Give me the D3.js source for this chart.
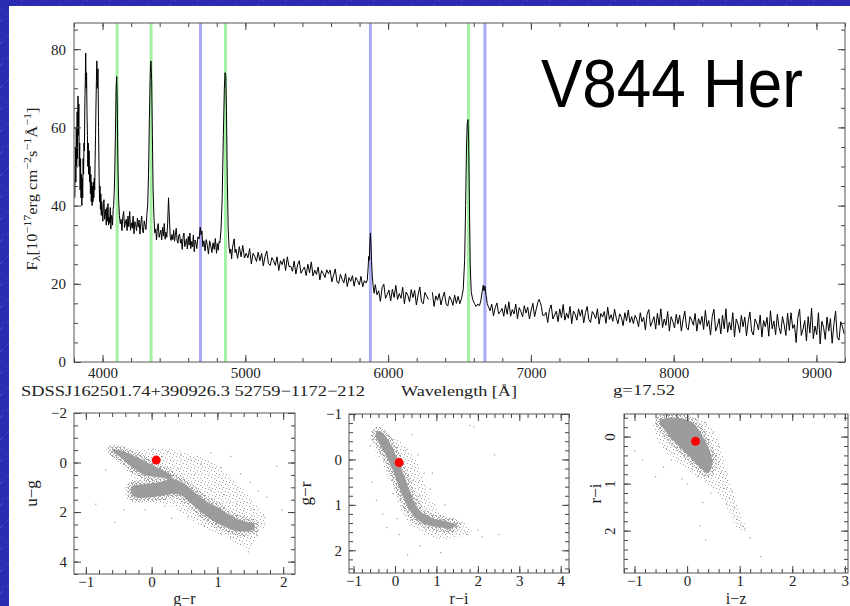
<!DOCTYPE html>
<html>
<head>
<meta charset="utf-8">
<script src="https://cdn.jsdelivr.net/npm/d3@7"></script>
<style>
body { margin: 0; background: #fff; }
svg text { font-family: "Liberation Serif", "DejaVu Serif", serif; fill: #222; }
</style>
</head>
<body>
<svg id="chart" width="850" height="606"></svg>
<script>
// spectrum, [wavelength (A), flux (1e-17 erg/cm2/s/A)]
var spectrum = [
  [3806,42],[3810,55],[3813,46],[3816,60],[3819,50],[3822,64],[3825,52],[3828,68],[3831,58],[3834,66],
  [3837,50],[3840,56],[3843,44],[3846,52],[3849,42],[3852,48],[3855,40],[3858,47],[3861,42],[3864,52],
  [3867,48],[3870,56],[3873,54],[3876,66],[3879,72],[3882,79],[3885,70],[3888,74],[3891,64],[3894,58],
  [3897,50],[3900,56],[3903,48],[3906,54],[3909,46],[3912,50],[3915,43],[3918,48],[3921,41],[3924,46],
  [3927,40],[3930,45],[3933,41],[3936,46],[3939,42],[3942,47],[3945,44],[3948,52],[3951,58],[3954,66],
  [3957,72],[3960,77],[3964,70],[3968,75],[3972,60],[3976,47],[3979,41],[3982,45],[3985,39],[3988,43],
  [3991,37.5],[3994,41],[3998,39],[4002,36],[4006,40.5],[4010,41.5],[4014,36.5],[4018,37.5],[4022,39],[4026,35],
  [4030,39.5],[4034,36],[4038,40.5],[4042,35],[4046,37],[4050,35.5],[4054,39.5],[4058,34],[4062,37.5],[4066,37],
  [4070,35],[4074,39],[4078,40],[4084,46],[4090,58],[4095,70],[4099,73],[4103,66],[4107,52],[4112,42],
  [4118,37.5],[4124,35.4],[4130,36.5],[4136,33.6],[4142,37.2],[4148,38.5],[4154,34.4],[4160,35.5],[4166,36.5],[4172,33.6],
  [4178,37.3],[4184,34.6],[4190,38.5],[4196,33.7],[4202,35.6],[4208,34.2],[4214,37.3],[4220,32.8],[4226,35.9],[4232,35.1],
  [4238,33.6],[4244,36.8],[4250,34.5],[4256,36.3],[4262,32.7],[4268,35.5],[4274,37.3],[4280,33.6],[4286,33.0],[4292,36.1],
  [4298,35.0],[4304,33.9],[4310,37.5],[4316,40],[4322,48],[4328,62],[4334,74],[4339,77],[4344,72],[4349,58],
  [4354,44],[4360,37],[4366,33.0],[4372,34.0],[4378,31.2],[4384,34.3],[4390,35.4],[4396,31.9],[4402,32.8],[4408,33.7],
  [4414,31.2],[4420,34.4],[4426,32.2],[4432,35.4],[4438,31.4],[4444,33.2],[4450,31.9],[4456,35.5],[4462,42],[4468,37],
  [4474,32.0],[4480,31.1],[4486,32.6],[4492,31.3],[4498,33.7],[4504,30.9],[4510,32.4],[4516,34.2],[4522,31.1],[4528,30.4],
  [4534,32.4],[4540,32.7],[4546,30.4],[4552,31.4],[4558,28.8],[4564,32.0],[4570,33.0],[4576,29.5],[4582,30.5],[4588,31.5],
  [4594,28.9],[4600,32.1],[4606,29.9],[4612,33.0],[4618,29.0],[4624,30.8],[4630,29.5],[4636,32.5],[4642,28.2],[4648,31.2],
  [4654,30.5],[4660,29.0],[4668,32.0],[4676,31.5],[4684,34.5],[4690,32.5],[4696,33.5],[4702,29.5],[4710,31.0],[4718,28.4],
  [4726,31.3],[4734,29.8],[4742,27.6],[4750,31.0],[4758,29.7],[4766,28.0],[4774,30.5],[4782,28.8],[4790,31.6],[4798,27.8],
  [4804,30.3],[4810,28.6],[4816,30.8],[4822,30.5],[4830,34],[4838,42],[4846,58],[4853,70],[4858,74],[4863,73],
  [4868,64],[4874,46],[4880,34],[4886,29.5],[4892,27.8],[4898,28.9],[4904,26.4],[4910,29.2],[4916,30.4],[4922,31.5],
  [4928,28.0],[4934,28.9],[4946,26.5],[4958,29.5],[4970,26.9],[4982,29.8],[4994,26.6],[5006,27.8],[5018,26.6],[5030,29.0],
  [5042,25.1],[5054,27.8],[5066,27.0],[5078,25.7],[5090,28.1],[5102,25.9],[5114,27.8],[5126,24.6],[5138,27.0],[5150,28.4],
  [5162,25.2],[5174,24.7],[5186,26.7],[5198,25.9],[5210,24.7],[5222,26.9],[5234,23.4],[5246,25.9],[5258,24.9],[5270,26.4],
  [5282,23.4],[5294,26.9],[5306,24.4],[5318,24.5],[5330,23.2],[5342,25.8],[5354,22.5],[5366,24.8],[5378,25.9],[5390,22.7],
  [5402,23.6],[5414,24.3],[5426,22.1],[5438,25.0],[5450,22.8],[5462,25.6],[5474,22.0],[5486,23.5],[5498,22.4],[5510,24.3],
  [5522,21.0],[5534,23.4],[5546,22.6],[5558,21.6],[5570,23.6],[5582,22.6],[5594,23.5],[5606,20.5],[5618,22.2],[5630,23.8],
  [5642,20.5],[5654,20.1],[5666,22.4],[5678,21.2],[5690,20.2],[5702,22.6],[5714,19.3],[5726,21.6],[5738,20.6],[5750,22.1],
  [5762,19.4],[5774,21.6],[5786,20.8],[5798,19.7],[5810,21.9],[5822,19.2],[5834,20.8],[5846,20.2],[5854,21],[5860,24],
  [5864,27],[5868,26],[5872,30],[5876,33],[5880,30],[5884,26],[5889,22],[5895,19.5],[5902,17.6],[5910,19.8],
  [5922,17.2],[5934,18.2],[5946,15.5],[5958,19.0],[5970,19.9],[5982,16.3],[5994,17.3],[6006,18.4],[6018,15.6],[6030,18.6],
  [6042,16.5],[6054,19.6],[6066,16.0],[6078,17.5],[6090,16.3],[6102,19.1],[6114,14.9],[6126,17.9],[6138,17.1],[6150,15.4],
  [6162,18.5],[6174,16.5],[6186,18.3],[6198,14.6],[6210,17.2],[6222,19.2],[6234,15.4],[6246,14.9],[6258,17.8],[6270,16.9],
  [6282,16.0],[6295,null],[6310,17.8],[6322,14.2],[6334,16.9],[6346,15.8],[6358,17.5],[6370,14.6],[6382,16.5],[6394,17.9],
  [6406,14.8],[6418,14.3],[6430,16.8],[6442,15.9],[6454,14.5],[6466,17.1],[6478,15.0],[6490,16.8],[6502,14.9],[6514,16.2],
  [6526,18.5],[6536,26],[6543,40],[6549,55],[6554,61],[6559,62],[6564,57],[6569,42],[6575,25],[6582,18],
  [6592,16],[6604,15],[6616,14.2],[6628,14.8],[6640,14.4],[6650,15.8],[6660,18.3],[6666,19.6],[6672,18.2],[6678,19.4],
  [6686,17.0],[6694,15.0],[6702,14.2],[6714,13.1],[6726,14.8],[6738,11.8],[6750,13.9],[6762,15.1],[6774,12.3],[6786,12.9],
  [6798,13.7],[6810,11.7],[6822,14.7],[6834,12.2],[6846,15.4],[6858,11.7],[6870,13.4],[6882,12.3],[6894,14.8],[6906,11.1],
  [6918,13.9],[6930,12.9],[6942,11.6],[6954,14.4],[6966,12.5],[6978,14.0],[6990,11.0],[7002,13.3],[7014,15.0],[7026,11.6],
  [7038,13.6],[7050,15.4],[7058,16.0],[7066,15.2],[7074,14.1],[7082,12.0],[7094,11.9],[7106,12.7],[7118,10.1],[7130,13.4],
  [7142,14.6],[7154,11.0],[7166,12.0],[7178,13.0],[7190,10.3],[7202,13.6],[7214,11.3],[7226,14.7],[7238,10.7],[7250,12.5],
  [7262,11.2],[7274,14.2],[7286,9.8],[7298,13.0],[7310,12.2],[7322,10.7],[7334,13.6],[7346,11.7],[7358,13.4],[7370,10.0],
  [7382,12.6],[7394,14.2],[7406,10.9],[7418,10.1],[7430,12.9],[7442,12.2],[7454,11.1],[7466,13.6],[7478,9.7],[7490,12.4],
  [7502,11.5],[7514,12.9],[7526,9.9],[7538,14.0],[7550,10.9],[7562,12.1],[7574,10.4],[7586,13.5],[7598,11.2],[7610,9.8],
  [7622,12.3],[7634,11.4],[7646,9.3],[7658,12.6],[7670,10.5],[7682,13.3],[7694,10.1],[7706,11.6],[7718,9.8],[7730,11.9],
  [7742,10.9],[7754,9.0],[7766,12.6],[7778,10.3],[7790,11.4],[7802,8.2],[7814,12.3],[7826,13.4],[7838,9.1],[7850,10.3],
  [7862,11.6],[7874,8.4],[7886,12.5],[7898,9.4],[7910,13.6],[7922,8.8],[7934,11.0],[7946,9.4],[7958,12.9],[7970,7.9],
  [7982,11.6],[7994,10.4],[8006,8.7],[8018,12.2],[8030,9.7],[8042,12.0],[8054,7.9],[8066,10.8],[8078,13.0],[8090,8.8],
  [8102,8.2],[8114,11.6],[8126,10.7],[8138,9.4],[8150,12.4],[8162,7.9],[8174,11.1],[8186,9.6],[8198,11.7],[8210,8.3],
  [8222,13.2],[8234,9.1],[8246,10.6],[8258,6.9],[8270,11.6],[8282,13.5],[8294,7.9],[8306,9.2],[8318,11.1],[8330,7.2],
  [8342,12.0],[8354,8.5],[8366,13.6],[8378,7.6],[8390,10.2],[8402,8.2],[8414,12.6],[8426,6.4],[8438,11.0],[8450,9.8],
  [8462,7.5],[8474,11.9],[8486,9.0],[8498,11.5],[8510,6.7],[8522,10.3],[8534,12.8],[8546,7.9],[8558,6.9],[8570,11.0],
  [8582,10.0],[8594,8.2],[8606,12.0],[8618,6.4],[8630,10.6],[8642,9.0],[8654,11.4],[8666,6.6],[8678,13.1],[8690,8.5],
  [8702,10.5],[8714,7.0],[8726,12.2],[8738,8.8],[8750,7.2],[8762,11.6],[8774,9.5],[8786,6.8],[8798,12.5],[8810,8.1],
  [8822,12.6],[8834,8.6],[8846,9.6],[8858,5.0],[8870,11.4],[8882,13.5],[8894,6.8],[8906,8.4],[8918,10.6],[8930,5.4],
  [8942,11.6],[8954,7.4],[8966,13.8],[8978,6.0],[8990,9.2],[9002,7.0],[9014,12.6],[9026,4.6],[9038,10.4],[9050,8.9],
  [9062,5.8],[9074,11.5],[9086,7.9],[9098,11.1],[9110,4.8],[9122,9.6],[9134,13.0],[9146,6.3],[9158,5.6],[9170,10.3],
  [9182,9.0],[9194,7.2]
];

var balmerLines = [4102, 4340, 4861, 6563];
var heliumLines = [4686, 5876, 6678];
var waveTicks = [4000, 5000, 6000, 7000, 8000, 9000];
var fluxTicks = [0, 20, 40, 60, 80];

// colour-colour panels: dense locus outlines, sparse halo outlines, loose points
var grTicks1 = [-1, 0, 1, 2],      ugTicks = [-2, 0, 2, 4];
var riTicks2 = [-1, 0, 1, 2, 3, 4], grTicks2 = [-1, 0, 1, 2];
var izTicks = [-1, 0, 1, 2, 3],    riTicks3 = [0, 1, 2];

var ugUpperBranch = [[-0.598,-0.54],[-0.484,-0.5],[-0.36,-0.37],[-0.212,-0.2],[-0.064,0.0],[0.084,0.2],[0.232,0.39],[0.3,0.52],
  [0.3,0.7],[0.183,0.62],[0.035,0.57],[-0.114,0.49],[-0.237,0.3],[-0.36,0.05],[-0.484,-0.23],[-0.568,-0.4]];
var ugLocus = [[-0.311,0.98],[-0.114,0.88],[0.084,0.81],[0.232,0.7],[0.356,0.68],[0.479,0.82],[0.578,1.02],[0.726,1.36],
  [0.874,1.63],[1.022,1.83],[1.17,2.1],[1.319,2.3],[1.467,2.41],[1.56,2.47],[1.56,2.68],[1.442,2.78],[1.269,2.75],
  [1.121,2.6],[0.973,2.42],[0.825,2.15],[0.701,1.88],[0.578,1.6],[0.454,1.33],[0.331,1.26],[0.183,1.33],[-0.015,1.4],
  [-0.212,1.42],[-0.3,1.28]];
var ugHalo = [[-0.6,-0.62],[-0.2,-0.5],[0.1,-0.6],[0.5,-0.45],[0.85,-0.1],[1.15,0.45],[1.4,1.1],[1.6,1.75],[1.75,2.4],
  [1.6,2.95],[1.5,3.55],[1.35,3.4],[1.15,3.0],[0.9,2.8],[0.6,2.3],[0.3,1.75],[0.0,1.6],[-0.35,1.55],[-0.4,1.0],[-0.3,0.7],
  [-0.5,0.0],[-0.7,-0.5]];
var ugLoose = [[-0.85,1.68],[-0.56,2.4],[-0.42,1.9],[0.02,-0.55],[0.25,-0.45],[0.45,-0.3],[0.6,-0.1],[0.75,0.05],[0.9,-0.4],
  [1.05,0.2],[1.2,-0.25],[1.35,0.45],[1.5,0.8],[1.62,1.15],[1.75,1.4],[1.9,0.15],[1.98,1.9],[1.7,2.1],[1.6,2.95],[1.47,3.6],
  [1.35,3.3],[1.2,3.05],[1.05,2.85],[0.55,2.2],[0.3,2.25],[0.8,2.55],[0.9,1.1],[1.1,1.3],[0.65,0.5],[0.4,0.25],[0.15,-0.25],
  [1.3,1.7],[-0.7,0.3],[-0.1,1.9],[0.2,1.75],[1.4,2.2],[1.55,1.9]];

var grLocus = [[-0.45,-0.595],[-0.47,-0.514],[-0.36,-0.317],[-0.2,-0.061],[-0.055,0.232],[0.09,0.598],[0.225,0.89],
  [0.345,1.11],[0.505,1.3],[0.75,1.43],[1.077,1.49],[1.318,1.53],[1.49,1.45],[1.238,1.36],[0.916,1.3],
  [0.7,1.2],[0.54,1.06],[0.42,0.84],[0.3,0.57],[0.18,0.26],[0.06,-0.01],[-0.08,-0.29],[-0.22,-0.495],[-0.354,-0.62]];
var grHalo = [[-0.5,-0.62],[-0.1,-0.55],[0.3,-0.25],[0.55,0.1],[0.75,0.6],[0.95,1.0],[1.3,1.3],[1.7,1.4],[1.85,1.6],
  [1.5,1.72],[1.0,1.75],[0.6,1.6],[0.3,1.35],[0.1,1.0],[-0.1,0.5],[-0.3,0.1],[-0.55,-0.4]];
var grLoose = [[-0.6,-0.3],[-0.55,0.5],[-0.3,1.2],[-0.2,1.5],[0.1,1.65],[0.3,2.1],[0.6,1.9],[0.75,1.55],[1.0,1.6],[1.3,1.55],
  [1.55,1.5],[1.7,1.6],[1.75,1.65],[2.0,1.55],[2.1,1.7],[2.5,1.65],[1.1,2.05],[1.8,-0.75],[1.9,-0.72],[2.4,-0.1],[0.4,-0.55],
  [0.55,-0.1],[0.7,0.3],[0.85,0.65],[0.95,1.0],[0.6,0.8],[0.45,0.45],[0.25,-0.2],[0.9,0.3],[1.2,1.0],[1.4,1.3],[-0.45,0.9],
  [0.05,1.3],[-0.05,0.75]];

var riLocus = [[-0.51,-0.35],[-0.325,-0.4],[-0.073,-0.38],[0.12,-0.29],[0.22,-0.145],[0.315,0.032],[0.41,0.244],
  [0.47,0.456],[0.47,0.633],[0.401,0.78],[0.3,0.71],[0.17,0.57],[0.015,0.39],[-0.145,0.21],[-0.3,0.035],
  [-0.43,-0.145],[-0.51,-0.272]];
var riHalo = [[-0.6,-0.4],[-0.2,-0.47],[0.3,-0.35],[0.55,0.0],[0.7,0.5],[0.85,1.1],[1.0,1.6],[1.12,1.98],[1.0,2.0],[0.8,1.6],
  [0.55,1.15],[0.3,0.95],[0.0,0.7],[-0.3,0.45],[-0.55,0.1],[-0.65,-0.2]];
var riLoose = [[-1.0,0.3],[-0.85,0.5],[-0.6,0.85],[-0.45,0.65],[-0.3,0.5],[-0.4,0.25],[0.1,0.7],[0.2,0.85],[0.55,0.4],[0.6,0.2],
  [0.5,-0.1],[0.35,-0.3],[0.65,0.75],[0.7,1.1],[0.8,1.3],[0.9,1.5],[0.95,1.75],[1.05,1.9],[1.1,1.95],[1.2,2.15],[1.4,2.55],
  [0.25,1.9],[0.35,2.2],[0.0,1.0],[-0.1,0.9],[0.45,1.2],[0.75,1.45],[0.6,0.55],[0.85,1.15],[0.3,1.4]];

// colours of the target: u-g, g-r, r-i, i-z
var targetColours = [-0.1, 0.07, 0.1, 0.16];

var svg = d3.select("#chart");
var defs = svg.append("defs");

// slide background: blue with faint dashed diagonals
var bgPat = defs.append("pattern").attr("id", "slideBg").attr("patternUnits", "userSpaceOnUse")
    .attr("width", 22).attr("height", 22);
bgPat.append("rect").attr("width", 22).attr("height", 22).attr("fill", "#2c2cb2");
bgPat.append("path").attr("d", "M0,22L22,0").attr("stroke", "rgba(255,255,255,0.22)")
    .attr("stroke-width", 0.8).attr("stroke-dasharray", "4,6");

// stipple patterns used for the point clouds
var sparse = defs.append("pattern").attr("id", "sparseDots").attr("patternUnits", "userSpaceOnUse")
    .attr("width", 7).attr("height", 7);
[[1, 1], [4, 2], [2, 5], [6, 4], [5, 6]].forEach(function (p) {
    sparse.append("rect").attr("x", p[0]).attr("y", p[1]).attr("width", 1).attr("height", 1).attr("fill", "#a4a4a4");
});
var dense = defs.append("pattern").attr("id", "denseDots").attr("patternUnits", "userSpaceOnUse")
    .attr("width", 4).attr("height", 4);
[[0, 0], [2, 1], [1, 2], [3, 3], [0, 3]].forEach(function (p) {
    dense.append("rect").attr("x", p[0]).attr("y", p[1]).attr("width", 1).attr("height", 1).attr("fill", "#a0a0a0");
});

svg.append("rect").attr("width", 850).attr("height", 606).attr("fill", "url(#slideBg)");
svg.append("rect").attr("x", 9).attr("y", 6).attr("width", 841).attr("height", 600).attr("fill", "#fff");

/**
 * Khung truc voi tick ben trong ca bon canh
 */
function drawFrame(g, x, y, o) {
    var x0 = d3.min(x.range()), x1 = d3.max(x.range());
    var y0 = d3.min(y.range()), y1 = d3.max(y.range());
    var fmt = o.fmt || d3.format("d");

    function put(axis, tx, ty) {
        return g.append("g").attr("transform", "translate(" + tx + "," + ty + ")").call(axis);
    }
    put(d3.axisBottom(x).tickValues(o.xMinor).tickSize(-o.minor).tickFormat(""), 0, y1);
    put(d3.axisTop(x).tickValues(o.xMinor).tickSize(-o.minor).tickFormat(""), 0, y0);
    put(d3.axisLeft(y).tickValues(o.yMinor).tickSize(-o.minor).tickFormat(""), x0, 0);
    put(d3.axisRight(y).tickValues(o.yMinor).tickSize(-o.minor).tickFormat(""), x1, 0);
    put(d3.axisTop(x).tickValues(o.xMajor).tickSize(-o.major).tickFormat(""), 0, y0);
    put(d3.axisRight(y).tickValues(o.yMajor).tickSize(-o.major).tickFormat(""), x1, 0);
    put(d3.axisBottom(x).tickValues(o.xMajor).tickSize(-o.major).tickPadding(o.xPad).tickFormat(fmt), 0, y1);
    var ly = put(d3.axisLeft(y).tickValues(o.yMajor).tickSize(-o.major).tickPadding(o.yPad).tickFormat(fmt), x0, 0);

    if (o.rotateY) {
        ly.selectAll("text").attr("x", -o.yPad).attr("dy", "0.35em").attr("text-anchor", "middle")
            .attr("transform", "rotate(-90," + (-o.yPad) + ",0)");
    }
    g.selectAll(".domain").remove();
    g.selectAll(".tick line").attr("stroke", "#444");
    g.selectAll(".tick text").attr("font-family", "Liberation Serif, serif").attr("font-size", 15).attr("fill", "#222");
    g.append("rect").attr("x", x0).attr("y", y0).attr("width", x1 - x0).attr("height", y1 - y0)
        .attr("fill", "none").attr("stroke", "#555").attr("stroke-width", 1);
}

// ---- spectrum ----
var xw = d3.scaleLinear().domain([3800, 9200]).range([74, 845]);
var yf = d3.scaleLinear().domain([0, 86.7]).range([362, 23]);

defs.append("clipPath").attr("id", "specClip").append("rect")
    .attr("x", 74).attr("y", 23).attr("width", 771).attr("height", 339);

var spec = svg.append("g");
var lines = spec.append("g").attr("clip-path", "url(#specClip)");
lines.selectAll("line.balmer").data(balmerLines).enter().append("line")
    .attr("x1", xw).attr("x2", xw).attr("y1", yf(0)).attr("y2", yf(86.7))
    .attr("stroke", "#a2f2a2").attr("stroke-width", 3);
lines.selectAll("line.helium").data(heliumLines).enter().append("line")
    .attr("x1", xw).attr("x2", xw).attr("y1", yf(0)).attr("y2", yf(86.7))
    .attr("stroke", "#aaaaf2").attr("stroke-width", 3);

var specLine = d3.line()
    .defined(function (d) { return d[1] != null; })
    .x(function (d) { return xw(d[0]); })
    .y(function (d) { return yf(d[1]); });
lines.append("path").datum(spectrum).attr("d", specLine)
    .attr("fill", "none").attr("stroke", "#000").attr("stroke-width", 1).attr("stroke-linejoin", "round");

drawFrame(spec, xw, yf, {
    xMajor: waveTicks, xMinor: d3.range(3800, 9201, 200),
    yMajor: fluxTicks, yMinor: d3.range(0, 86, 5),
    major: 7, minor: 4, xPad: 5, yPad: 8
});

svg.append("text").attr("x", 541).attr("y", 107)
    .attr("font-size", 68).attr("textLength", 262).attr("lengthAdjust", "spacingAndGlyphs")
    .style("font-family", "Liberation Sans, Arial, sans-serif").style("fill", "#000")
    .text("V844 Her");

var yl = svg.append("text").attr("transform", "translate(37,189) rotate(-90)")
    .attr("text-anchor", "middle").attr("font-size", 15)
    .attr("textLength", 163).attr("lengthAdjust", "spacingAndGlyphs");
yl.append("tspan").text("F");
yl.append("tspan").attr("font-size", 11).attr("baseline-shift", "-25%").text("λ");
yl.append("tspan").text("[10");
yl.append("tspan").attr("font-size", 11).attr("baseline-shift", "super").text("−17");
yl.append("tspan").text("erg cm");
yl.append("tspan").attr("font-size", 11).attr("baseline-shift", "super").text("−2");
yl.append("tspan").text("s");
yl.append("tspan").attr("font-size", 11).attr("baseline-shift", "super").text("−1");
yl.append("tspan").text("Å");
yl.append("tspan").attr("font-size", 11).attr("baseline-shift", "super").text("−1");
yl.append("tspan").text("]");

svg.append("text").attr("x", 21).attr("y", 396).attr("font-size", 15)
    .attr("textLength", 344).attr("lengthAdjust", "spacingAndGlyphs")
    .text("SDSSJ162501.74+390926.3 52759−1172−212");
svg.append("text").attr("x", 401).attr("y", 396).attr("font-size", 15)
    .attr("textLength", 116).attr("lengthAdjust", "spacingAndGlyphs").text("Wavelength [Å]");
svg.append("text").attr("x", 613).attr("y", 395).attr("font-size", 15)
    .attr("textLength", 62).attr("lengthAdjust", "spacingAndGlyphs").text("g=17.52");

// ---- colour-colour panels ----
var panels = [
    { id: "p1", xDom: [-1.18, 2.18], xRange: [74, 295], yDom: [-2, 4.5], yRange: [413, 574],
      xMajor: grTicks1, yMajor: ugTicks, xStep: 0.2, yStep: 0.5,
      cores: [ugUpperBranch, ugLocus], halo: ugHalo, loose: ugLoose,
      target: [targetColours[1], targetColours[0]], xLabel: "g−r", yLabel: "u−g", yLabelX: 31 },
    { id: "p2", xDom: [-1.11, 4.2], xRange: [349, 569], yDom: [-1, 2.5], yRange: [414, 573],
      xMajor: riTicks2, yMajor: grTicks2, xStep: 0.2, yStep: 0.2,
      cores: [grLocus], halo: grHalo, loose: grLoose,
      target: [targetColours[2], targetColours[1]], xLabel: "r−i", yLabel: "g−r", yLabelX: 305 },
    { id: "p3", xDom: [-1.2, 3.06], xRange: [624, 848], yDom: [-0.48, 2.9], yRange: [414, 573],
      xMajor: izTicks, yMajor: riTicks3, xStep: 0.2, yStep: 0.2, rotateY: true,
      cores: [riLocus], halo: riHalo, loose: riLoose,
      target: [targetColours[3], targetColours[2]], xLabel: "i−z", yLabel: "r−i", yLabelX: 595 }
];

panels.forEach(function (p) {
    var x = d3.scaleLinear().domain(p.xDom).range(p.xRange);
    var y = d3.scaleLinear().domain(p.yDom).range(p.yRange);
    var g = svg.append("g");

    defs.append("clipPath").attr("id", p.id + "Clip").append("rect")
        .attr("x", p.xRange[0]).attr("y", p.yRange[0])
        .attr("width", p.xRange[1] - p.xRange[0]).attr("height", p.yRange[1] - p.yRange[0]);
    var plot = g.append("g").attr("clip-path", "url(#" + p.id + "Clip)");

    var area = d3.line().x(function (d) { return x(d[0]); }).y(function (d) { return y(d[1]); })
        .curve(d3.curveCatmullRomClosed);

    plot.append("path").datum(p.halo).attr("d", area).attr("fill", "url(#sparseDots)");
    p.cores.forEach(function (c) {
        plot.append("path").datum(c).attr("d", area).attr("fill", "none")
            .attr("stroke", "url(#denseDots)").attr("stroke-width", 9);
    });
    p.cores.forEach(function (c) {
        plot.append("path").datum(c).attr("d", area).attr("fill", "#9c9c9c");
    });
    plot.selectAll("rect.loose").data(p.loose).enter().append("rect")
        .attr("x", function (d) { return x(d[0]) - 0.5; })
        .attr("y", function (d) { return y(d[1]) - 0.5; })
        .attr("width", 1.2).attr("height", 1.2).attr("fill", "#9a9a9a");
    plot.append("circle").attr("cx", x(p.target[0])).attr("cy", y(p.target[1])).attr("r", 4.5)
        .attr("fill", "#ff0000");

    var xMinor = d3.range(Math.ceil(p.xDom[0] / p.xStep - 1e-6), Math.floor(p.xDom[1] / p.xStep + 1e-6) + 1)
        .map(function (k) { return k * p.xStep; });
    var yMinor = d3.range(Math.ceil(p.yDom[0] / p.yStep - 1e-6), Math.floor(p.yDom[1] / p.yStep + 1e-6) + 1)
        .map(function (k) { return k * p.yStep; });
    drawFrame(g, x, y, {
        xMajor: p.xMajor, xMinor: xMinor, yMajor: p.yMajor, yMinor: yMinor,
        major: 7, minor: 4, xPad: 2, yPad: p.rotateY ? 14 : 7, rotateY: p.rotateY
    });

    g.append("text").attr("x", (p.xRange[0] + p.xRange[1]) / 2).attr("y", 604)
        .attr("text-anchor", "middle").attr("font-size", 16).text(p.xLabel);
    g.append("text").attr("transform", "translate(" + (p.yLabelX + 6) + "," + ((p.yRange[0] + p.yRange[1]) / 2) + ") rotate(-90)")
        .attr("text-anchor", "middle").attr("font-size", 17).text(p.yLabel);
});
</script>
</body>
</html>
